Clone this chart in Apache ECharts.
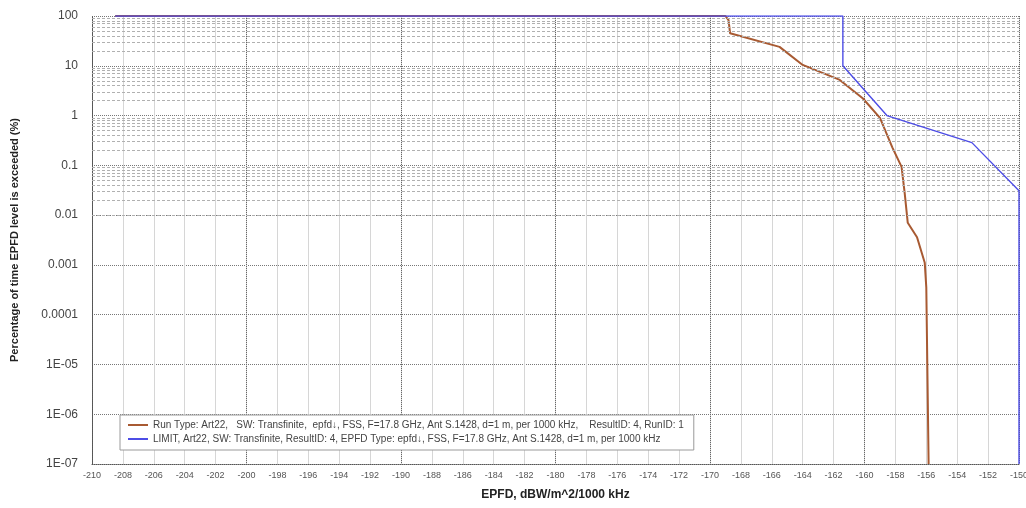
<!DOCTYPE html>
<html>
<head>
<meta charset="utf-8">
<script src="https://cdn.jsdelivr.net/npm/echarts@6/dist/echarts.min.js"></script>
<style>
  html, body { margin: 0; padding: 0; background: #fff; }
  #chart { width: 1026px; height: 508px; }
</style>
</head>
<body>
<div id="chart"></div>
<script>
// EPFD cumulative distribution: run result vs. Article 22 limit mask
const runEpfd = [-208.5, -169.0, -168.8, -168.7, -165.5, -164.0, -161.6, -160.1, -159.0, -158.2, -157.6, -157.4, -157.2, -156.6, -156.1, -156.0, -155.85];
const runPct  = [100, 100, 83, 45, 24, 10.4, 5.2, 2.2, 0.9, 0.23, 0.093, 0.028, 0.007, 0.0036, 0.0011, 0.00035, 1e-7];

const limitEpfd = [-208.5, -161.4, -161.4, -158.55, -153.05, -150.0, -150.0];
const limitPct  = [100, 100, 10, 1.0, 0.286, 0.031, 1e-7];

const yTickLabels = ['1E-07', '1E-06', '1E-05', '0.0001', '0.001', '0.01', '0.1', '1', '10', '100'];

const runName = 'Run Type: Art22,   SW: Transfinite,  epfd\u2193, FSS, F=17.8 GHz, Ant S.1428, d=1 m, per 1000 kHz,    ResultID: 4, RunID: 1';
const limitName = 'LIMIT, Art22, SW: Transfinite, ResultID: 4, EPFD Type: epfd\u2193, FSS, F=17.8 GHz, Ant S.1428, d=1 m, per 1000 kHz';

// minor horizontal grid lines at 2..9 within every decade
const minorLevels = [];
for (let e = -7; e < 2; e++) {
  for (let m = 2; m <= 9; m++) minorLevels.push({ yAxis: m * Math.pow(10, e) });
}

const zip = (xs, ys) => xs.map((x, i) => [x, ys[i]]);

const chart = echarts.init(document.getElementById('chart'), null, { renderer: 'canvas' });
chart.setOption({
  animation: false,
  backgroundColor: '#fff',
  grid: { left: 92, right: 7, top: 16, bottom: 44, containLabel: false, outerBoundsMode: 'none' },
  legend: {
    data: [runName, limitName],
    orient: 'vertical',
    left: 120,
    top: 415,
    padding: [5, 10, 6, 8],
    itemGap: 4,
    itemWidth: 20,
    itemHeight: 2,
    icon: 'rect',
    backgroundColor: '#fff',
    borderColor: '#9a9a9a',
    borderWidth: 1,
    textStyle: { fontFamily: 'Liberation Sans', fontSize: 10, color: '#444' }
  },
  xAxis: [
    {
      type: 'value', min: -210, max: -150, interval: 2,
      name: 'EPFD, dBW/m^2/1000 kHz', nameLocation: 'middle', nameGap: 25,
      nameTextStyle: { fontFamily: 'Liberation Sans', fontWeight: 'bold', fontSize: 12, color: '#222' },
      axisLine: { show: true, lineStyle: { color: '#555', type: 'dotted' } },
      axisTick: { show: false },
      axisLabel: { fontFamily: 'Liberation Sans', fontSize: 9, color: '#555', margin: 7 },
      splitLine: { show: true, lineStyle: { color: '#d6d6d6', width: 1, type: 'solid' } }
    },
    {
      type: 'value', min: -210, max: -150, interval: 10,
      position: 'bottom',
      axisLine: { show: false }, axisTick: { show: false }, axisLabel: { show: false },
      splitLine: { show: true, lineStyle: { color: '#666', width: 1, type: 'dotted' } }
    }
  ],
  yAxis: {
    type: 'log', logBase: 10, min: 1e-7, max: 100, splitNumber: 9,
    name: 'Percentage of time EPFD level is exceeded (%)', nameLocation: 'middle', nameGap: 72,
    nameTextStyle: { fontFamily: 'Liberation Sans', fontWeight: 'bold', fontSize: 11, color: '#222' },
    axisLine: { show: true, lineStyle: { color: '#555', type: 'dotted' } },
    axisTick: { show: false },
    axisLabel: {
      fontFamily: 'Liberation Sans', fontSize: 12, color: '#444', margin: 14,
      formatter: v => yTickLabels[Math.round(Math.log10(v)) + 7]
    },
    splitLine: { show: true, lineStyle: { color: '#777', width: 1, type: 'dotted' } }
  },
  series: [
    {
      name: 'minor', type: 'line', data: [], silent: true, z: 1,
      markLine: {
        silent: true, symbol: 'none', animation: false,
        label: { show: false },
        lineStyle: { color: '#b0b0b0', width: 1, type: [3, 2] },
        data: minorLevels
      }
    },
    {
      name: runName, type: 'line', xAxisIndex: 0, showSymbol: false, symbol: 'none', z: 4,
      lineStyle: { color: '#a85a32', width: 2 }, itemStyle: { color: '#a85a32' },
      data: zip(runEpfd, runPct)
    },
    {
      name: limitName, type: 'line', xAxisIndex: 0, showSymbol: false, symbol: 'none', z: 5,
      lineStyle: { color: '#4d4de6', width: 1.4 }, itemStyle: { color: '#4d4de6' },
      data: zip(limitEpfd, limitPct)
    }
  ]
});
</script>
</body>
</html>
